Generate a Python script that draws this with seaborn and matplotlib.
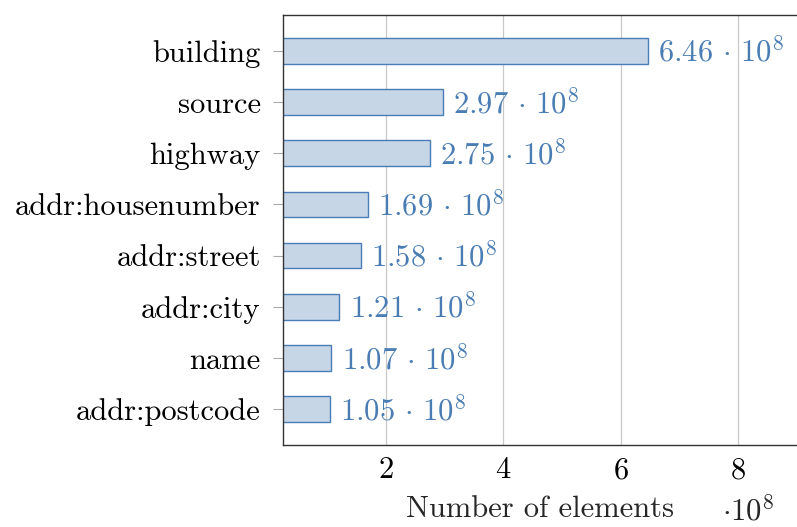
import matplotlib
matplotlib.use("Agg")
import matplotlib.pyplot as plt
import seaborn as sns
import pandas as pd
from matplotlib.ticker import FuncFormatter, FixedLocator

categories = ["building", "source", "highway", "addr:housenumber",
              "addr:street", "addr:city", "name", "addr:postcode"]
values = [6.46e8, 2.97e8, 2.75e8, 1.69e8, 1.58e8, 1.21e8, 1.07e8, 1.05e8]
x_ticks = [2e8, 4e8, 6e8, 8e8]
x_label = "Number of elements"

sns.set_style("white")
plt.rcParams["font.family"] = ["cmr10", "DejaVu Serif"]
plt.rcParams["mathtext.fontset"] = "cm"
plt.rcParams["axes.unicode_minus"] = False
plt.rcParams["axes.formatter.use_mathtext"] = True

EDGE = "#4a7db8"
FILL = "#c7d6e7"
TXT = "#4a7db4"
FS = 22

df = pd.DataFrame({"tag": categories, "count": values})

fig = plt.figure(figsize=(7.97, 5.27), dpi=100)
ax = fig.add_axes([0.355, 0.1556, 0.645, 0.816])
sns.barplot(data=df, x="count", y="tag", orient="h", ax=ax, width=0.5,
            color=FILL, edgecolor=EDGE, linewidth=1.0, saturation=1)

for i, v in enumerate(values):
    ax.annotate(r"$%.2f\,\cdot\,10^{8}$" % (v / 1e8), xy=(v, i), xytext=(7.5, -1),
                textcoords="offset points", va="center", ha="left",
                fontsize=FS, color=TXT)

ax.set_xlim(0.25e8, 9.0e8)
ax.set_ylim(7.7, -0.7)
ax.xaxis.set_major_locator(FixedLocator(x_ticks))
ax.xaxis.set_major_formatter(FuncFormatter(lambda v, p: r"$%d$" % round(v / 1e8)))
ax.grid(axis="x", color="#c8c8c8", linewidth=0.9)
ax.grid(axis="y", visible=False)
ax.set_axisbelow(True)

for s in ["left", "top", "bottom"]:
    ax.spines[s].set_visible(True)
    ax.spines[s].set_color("#333333")
    ax.spines[s].set_linewidth(1.0)
ax.spines["right"].set_visible(False)

ax.tick_params(axis="y", which="major", left=True, length=7.5, width=0.8,
               color="#aaaaaa", labelsize=FS, pad=8.5, labelcolor="black")
ax.tick_params(axis="x", which="major", bottom=False, labelsize=FS, pad=5,
               labelcolor="black")
ax.set_ylabel("")
ax.set_xlabel(x_label, fontsize=FS, va="baseline")
ax.xaxis.set_label_coords(0.5, -0.168)
fig.text(0.906, 0.012, r"$\cdot 10^{8}$", fontsize=FS, ha="left", va="baseline")

fig.savefig("out.png", dpi=100)
